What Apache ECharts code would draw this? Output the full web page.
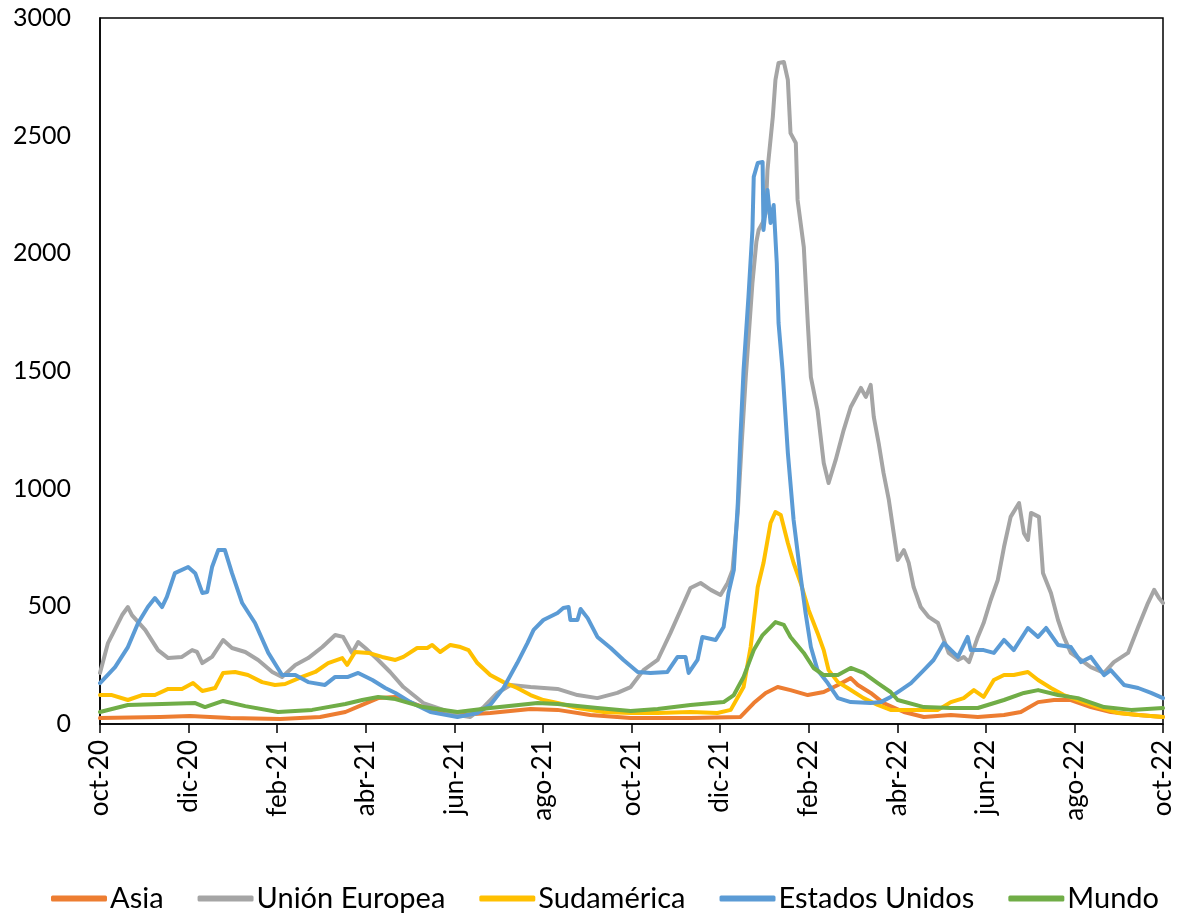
<!DOCTYPE html>
<html>
<head>
<meta charset="utf-8">
<script src="https://cdn.jsdelivr.net/npm/echarts@6/dist/echarts.min.js"></script>
<style>
html,body{margin:0;padding:0;background:#fff;}
#chart{width:1178px;height:916px;}
</style>
</head>
<body>
<div id="chart"></div>
<script>
// x = months since 1 Oct 2020 (fractional), y = value
const tickLabels = ['oct-20','dic-20','feb-21','abr-21','jun-21','ago-21','oct-21','dic-21','feb-22','abr-22','jun-22','ago-22','oct-22'];
const seriesNames = ['Asia','Unión Europea','Sudamérica','Estados Unidos','Mundo'];
const seriesColors = ['#ED7D31','#A5A5A5','#FFC000','#5B9BD5','#70AD47'];

const asia = [[0,25],[1.36,30],[2.03,34],[2.94,25],[4.07,21],[4.97,30],[5.54,51],[5.92,81],[6.28,110],[6.67,115],[7.30,72],[8.07,38],[8.81,47],[9.72,64],[10.33,60],[11.07,38],[11.98,25],[13.33,25],[14.46,30],[14.76,89],[15.03,132],[15.30,157],[15.59,144],[15.98,123],[16.34,136],[16.66,166],[16.95,195],[17.11,166],[17.40,132],[17.69,89],[18.15,51],[18.60,30],[19.21,38],[19.82,30],[20.41,38],[20.79,51],[21.18,93],[21.54,102],[21.92,102],[22.37,72],[22.82,51],[23.44,38],[24,30]];

const unionEuropea = [[0,217],[0.18,344],[0.50,463],[0.63,497],[0.72,463],[1.02,400],[1.31,314],[1.54,280],[1.85,285],[2.08,314],[2.19,306],[2.31,259],[2.53,285],[2.78,357],[2.98,323],[3.28,306],[3.57,272],[3.89,221],[4.11,200],[4.41,251],[4.70,280],[5.02,327],[5.31,378],[5.49,370],[5.69,302],[5.83,348],[5.99,323],[6.28,272],[6.55,221],[6.85,157],[7.30,89],[7.75,60],[8.07,38],[8.36,30],[8.66,72],[8.97,132],[9.27,166],[9.72,157],[10.33,149],[10.78,123],[11.23,110],[11.68,132],[11.98,157],[12.27,229],[12.59,272],[12.88,387],[13.18,514],[13.33,578],[13.56,599],[13.79,570],[14.01,548],[14.17,599],[14.28,654],[14.40,900],[14.49,1200],[14.58,1474],[14.73,1874],[14.82,2050],[14.87,2099],[14.96,2130],[15.03,2171],[15.07,2354],[15.19,2579],[15.25,2737],[15.32,2809],[15.44,2813],[15.53,2737],[15.59,2511],[15.71,2469],[15.75,2227],[15.89,2027],[15.98,1704],[16.05,1474],[16.20,1334],[16.34,1109],[16.45,1024],[16.61,1122],[16.79,1249],[16.95,1347],[17.18,1428],[17.29,1390],[17.40,1441],[17.47,1305],[17.58,1194],[17.69,1067],[17.81,952],[17.92,811],[18.01,697],[18.15,739],[18.26,684],[18.37,582],[18.53,497],[18.71,455],[18.92,429],[19.03,370],[19.16,302],[19.37,272],[19.50,285],[19.62,263],[19.82,370],[19.95,429],[20.11,527],[20.27,612],[20.41,752],[20.56,880],[20.75,939],[20.86,811],[20.95,782],[21.02,897],[21.20,880],[21.29,642],[21.47,557],[21.63,442],[21.76,370],[21.92,302],[22.15,272],[22.37,242],[22.67,217],[22.89,263],[23.21,302],[23.44,412],[23.66,514],[23.80,570],[23.91,535],[24,514]];

const sudamerica = [[0,123],[0.27,123],[0.63,102],[0.95,123],[1.24,123],[1.54,149],[1.85,149],[2.10,174],[2.31,140],[2.60,153],[2.78,217],[3.05,221],[3.34,208],[3.66,178],[3.95,166],[4.18,170],[4.56,200],[4.86,221],[5.15,259],[5.47,280],[5.58,251],[5.76,306],[6.06,302],[6.37,285],[6.67,272],[6.85,285],[7.16,323],[7.39,323],[7.50,336],[7.68,306],[7.91,336],[8.14,327],[8.32,314],[8.52,259],[8.81,208],[9.11,178],[9.42,153],[9.72,123],[10.01,102],[10.33,89],[10.78,68],[11.37,51],[11.98,47],[12.59,47],[13.33,51],[13.94,47],[14.24,60],[14.53,157],[14.69,327],[14.85,582],[14.98,684],[15.14,854],[15.25,901],[15.37,888],[15.53,769],[15.66,684],[15.82,599],[16.00,484],[16.20,387],[16.34,314],[16.45,229],[16.66,178],[16.88,153],[17.24,110],[17.56,81],[17.85,60],[18.31,60],[18.92,60],[19.21,93],[19.50,110],[19.73,144],[19.95,115],[20.18,187],[20.41,208],[20.63,208],[20.95,221],[21.18,187],[21.47,153],[21.76,123],[22.08,102],[22.53,72],[22.98,47],[23.44,38],[24,30]];

const estadosUnidos = [[0,174],[0.34,242],[0.63,327],[0.86,429],[1.08,497],[1.24,535],[1.40,497],[1.51,540],[1.69,641],[1.99,667],[2.15,641],[2.31,557],[2.42,561],[2.53,667],[2.67,739],[2.82,739],[2.98,641],[3.21,514],[3.50,429],[3.80,302],[4.11,208],[4.41,208],[4.70,178],[5.08,166],[5.31,200],[5.60,200],[5.83,217],[6.15,187],[6.44,153],[6.67,132],[7.01,93],[7.46,51],[8.07,30],[8.52,47],[8.81,81],[9.11,153],[9.42,259],[9.65,344],[9.79,400],[10.01,442],[10.33,472],[10.46,493],[10.58,497],[10.62,442],[10.78,442],[10.85,489],[11.01,450],[11.23,370],[11.53,323],[11.82,272],[12.14,221],[12.43,217],[12.81,221],[13.04,285],[13.22,285],[13.29,217],[13.49,272],[13.60,370],[13.90,357],[14.08,412],[14.19,557],[14.31,654],[14.40,939],[14.46,1220],[14.53,1504],[14.64,1814],[14.73,2099],[14.76,2325],[14.85,2384],[14.96,2388],[14.98,2099],[15.07,2269],[15.14,2129],[15.21,2205],[15.28,1959],[15.32,1704],[15.41,1504],[15.53,1152],[15.66,867],[15.82,625],[15.93,472],[16.05,327],[16.20,229],[16.43,174],[16.66,110],[16.95,93],[17.40,89],[17.63,93],[17.85,115],[18.08,144],[18.31,174],[18.60,229],[18.82,272],[19.05,344],[19.37,285],[19.59,370],[19.66,314],[19.95,314],[20.18,302],[20.41,357],[20.63,314],[20.95,408],[21.18,370],[21.36,408],[21.63,336],[21.92,327],[22.15,263],[22.37,285],[22.67,208],[22.82,229],[23.12,166],[23.44,153],[23.73,132],[24,110]];

const mundo = [[0,51],[0.63,81],[1.40,85],[2.15,89],[2.37,72],[2.78,98],[3.28,76],[4.02,51],[4.79,60],[5.54,85],[5.92,102],[6.28,115],[6.67,106],[7.30,72],[8.07,51],[8.81,68],[9.88,89],[10.33,85],[11.23,68],[11.98,55],[12.59,64],[13.33,81],[14.08,93],[14.31,123],[14.53,200],[14.76,314],[14.96,378],[15.14,412],[15.25,433],[15.44,421],[15.59,370],[15.89,302],[16.11,238],[16.34,208],[16.66,208],[16.95,238],[17.24,217],[17.56,174],[17.85,136],[18.01,102],[18.60,72],[19.21,68],[19.82,68],[20.41,102],[20.86,132],[21.18,144],[21.63,123],[22.08,110],[22.67,72],[23.28,60],[24,68]];

const allData = [asia, unionEuropea, sudamerica, estadosUnidos, mundo];
const FONT = 'Lato, "Open Sans", sans-serif';

const chart = echarts.init(document.getElementById('chart'), null, {renderer:'canvas'});
chart.setOption({
  animation: false,
  backgroundColor: '#fff',
  grid: {left:100, right:15, top:18, bottom:192, show:true, borderColor:'#000', borderWidth:1.5, containLabel:false},
  xAxis: {
    type:'value', min:0, max:24, interval:2,
    axisLine:{show:true, onZero:false, lineStyle:{color:'#000', width:1.5}},
    axisTick:{show:true, length:9, lineStyle:{color:'#000', width:1.5}},
    splitLine:{show:false},
    axisLabel:{rotate:90, margin:16, color:'#000', fontSize:26, fontFamily:FONT,
      formatter: v => tickLabels[Math.round(v/2)] || ''}
  },
  yAxis: {
    type:'value', min:0, max:3000, interval:500,
    axisLine:{show:true, lineStyle:{color:'#000', width:1.5}},
    axisTick:{show:false},
    splitLine:{show:false},
    axisLabel:{margin:29, color:'#000', fontSize:25, fontFamily:FONT, formatter: v => String(v)}
  },
  legend: {
    left:46, top:879, itemWidth:56, itemHeight:6, itemGap:34, icon:'roundRect',
    textStyle:{color:'#000', fontSize:29, fontFamily:FONT, padding:[0,0,0,-2]},
    data: seriesNames
  },
  series: seriesNames.map((n,i) => ({
    name:n, type:'line', data:allData[i], showSymbol:false, symbol:'none',
    lineStyle:{color:seriesColors[i], width:4, join:'round', cap:'round'},
    itemStyle:{color:seriesColors[i]},
    z: 2+i
  }))
});
</script>
</body>
</html>
